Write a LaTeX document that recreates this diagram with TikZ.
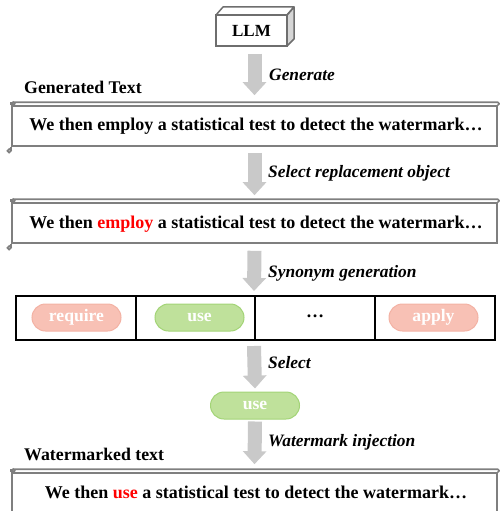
\documentclass[tikz,border=0pt]{standalone}
\usepackage{fontspec}
\setmainfont{Liberation Serif}
\usetikzlibrary{arrows.meta}
\definecolor{scrollgray}{HTML}{7F7F7F}
\definecolor{arrowgray}{HTML}{C9C9C9}
\definecolor{cubeline}{HTML}{6E6E6E}
\definecolor{cubeside}{HTML}{D6D6D6}
\definecolor{pillred}{HTML}{F8C1B5}
\definecolor{pillredline}{HTML}{F3B2A4}
\definecolor{pillgreen}{HTML}{BFE19B}
\definecolor{pillgreenline}{HTML}{A3D477}
\newcommand\scrolldeco[1]{%
  \draw[scrollline] ([shift={(2pt,3pt)}]#1.north west) -- ([yshift=3pt]#1.north east)
     .. controls +(2pt,0pt) and +(2pt,0pt) .. ([yshift=0pt]#1.north east);
  \draw[scrollline] ([shift={(2pt,1.5pt)}]#1.north west) circle[radius=1.6pt];
  \draw[scrollline] (#1.north west) -- ++(0pt,3pt);
  \draw[scrollline] (#1.south west) -- ++(0pt,-4pt);
  \draw[scrollline] ([shift={(-2pt,-4pt)}]#1.south west) circle[radius=1.8pt];
}
\begin{document}
\begin{tikzpicture}[x=1pt,y=1pt,
  scrollline/.style={draw=scrollgray, line width=1.6pt},
  scrollbox/.style={draw=scrollgray, line width=1.6pt, minimum width=485pt, minimum height=40pt, inner sep=0pt},
  bodytext/.style={font=\fontsize{18}{20}\selectfont\bfseries, inner sep=0pt, anchor=base},
  headtext/.style={font=\fontsize{17.8}{20}\selectfont\bfseries, inner sep=0pt, anchor=base west},
  labeltext/.style={font=\fontsize{17.4}{20}\selectfont\bfseries\itshape, inner sep=0pt, anchor=base west},
  steparrow/.style={draw=arrowgray, line width=14pt, -{Triangle[width=23pt,length=13pt]}},
  cell/.style={draw=black, line width=2pt, minimum height=44pt, inner sep=0pt},
  pill/.style={rounded corners=13.5pt, minimum width=89pt, minimum height=27pt, inner sep=0pt, line width=1pt, text=white, font=\fontsize{17.6}{19}\selectfont\bfseries},
  redpill/.style={pill, fill=pillred, draw=pillredline},
  greenpill/.style={pill, fill=pillgreen, draw=pillgreenline},
]
\useasboundingbox (0,0) rectangle (499,-511);
% LLM cube
\fill[white] (216,-15) -- (223,-7) -- (294,-7) -- (287,-15) -- cycle;
\filldraw[fill=cubeside, draw=cubeline, line width=1.5pt, line join=round] (287,-15) -- (294,-7) -- (294,-39) -- (287,-46) -- cycle;
\draw[cubeline, line width=1.5pt, line join=round] (216,-15) -- (223,-7) -- (294,-7) -- (287,-15);
\node[draw=cubeline, line width=1.5pt, minimum width=71pt, minimum height=31pt, inner sep=0pt, font=\fontsize{17}{18}\selectfont\bfseries] (llm) at (251.5,-30.5) {LLM};

% scroll 1
\node[scrollbox] (s1) at (254.5,-126) {};
\scrolldeco{s1}
\node[bodytext] (t1) at (256,-130) {We then employ a statistical test to detect the watermark…};
\node[headtext] (h1) at (24,-93) {Generated Text};

% scroll 2
\node[scrollbox] (s2) at (254.5,-223) {};
\scrolldeco{s2}
\node[bodytext] (t2) at (256,-228) {We then \textcolor{red}{employ} a statistical test to detect the watermark…};

% table
\node[cell, minimum width=120pt] (c1) at (76,-318) {};
\node[cell, minimum width=119pt] (c2) at (195.5,-318) {};
\node[cell, minimum width=120pt] (c3) at (315,-318) {};
\node[cell, minimum width=120pt] (c4) at (435,-318) {};
\node[redpill] (p1) at (76.5,-317.5) {require};
\node[greenpill] (p2) at (199.5,-317.5) {use};
\node[font=\fontsize{18}{20}\selectfont\bfseries] (p3) at (315,-316) {…};
\node[redpill] (p4) at (433.5,-317.5) {apply};

% selected
\node[greenpill] (sel) at (255,-405.5) {use};

% scroll 3
\node[scrollbox] (s3) at (254.5,-493) {};
\scrolldeco{s3}
\node[bodytext] (t3) at (256,-498) {We then \textcolor{red}{use} a statistical test to detect the watermark…};
\node[headtext] (h3) at (24,-460) {Watermarked text};

% arrows
\draw[steparrow] ([xshift=3pt,yshift=-7pt]llm.south) -- ([yshift=10pt]s1.north);
\draw[steparrow] ([yshift=-6pt]s1.south) -- ([yshift=7pt]s2.north);
\draw[steparrow] ([yshift=-7pt]s2.south) -- ([yshift=4pt]c3.north west);
\draw[steparrow] ([yshift=-5pt]c3.south west) -- ([yshift=3pt]sel.north);
\draw[steparrow] ([yshift=-2pt]sel.south) -- ([yshift=8pt]s3.north);

% labels
\node[labeltext] (l1) at (269,-80) {Generate};
\node[labeltext] (l2) at (268,-177) {Select replacement object};
\node[labeltext] (l3) at (268,-277) {Synonym generation};
\node[labeltext] (l4) at (268,-368) {Select};
\node[labeltext] (l5) at (268,-446) {Watermark injection};
\end{tikzpicture}
\end{document}
